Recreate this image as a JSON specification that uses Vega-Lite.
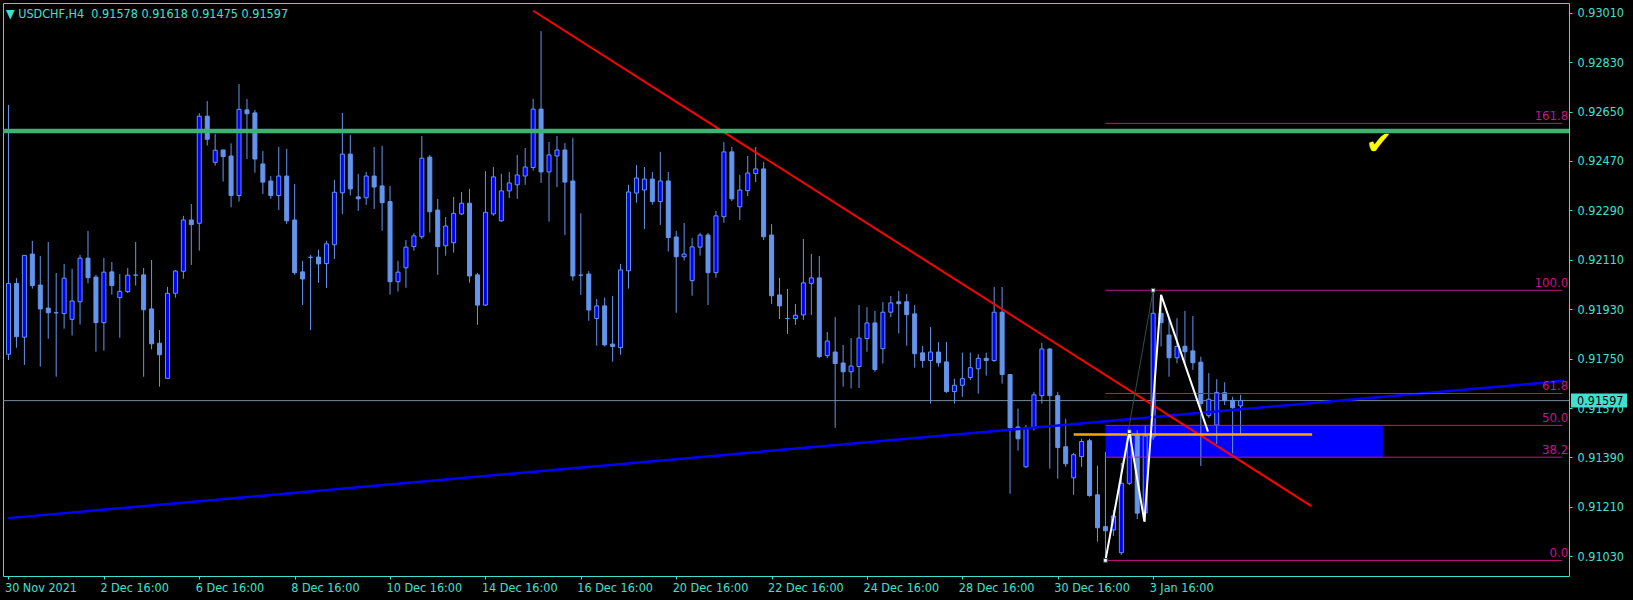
{
"$schema": "https://vega.github.io/schema/vega-lite/v6.json",
"width": 1566, "height": 573,
"autosize": {"type": "none"},
"padding": {"left": 3, "top": 3, "right": 64, "bottom": 24},
"background": "#000000",
"config": {"view": {"stroke": "#40E0D0", "strokeWidth": 1, "fill": "#000000"}, "font": "Liberation Sans Narrow, DejaVu Sans Condensed, Liberation Sans, sans-serif"},
"title": {"text": "▼ USDCHF,H4\u00a0\u00a00.91578 0.91618 0.91475 0.91597", "anchor": "start", "frame": "group", "orient": "top", "offset": -17, "dx": 3, "color": "#40E0D0", "fontSize": 12.5, "fontWeight": "normal"},
"datasets": {
"candles": [
{"i":0,"o":0.91766,"h":0.92674,"l":0.91745,"c":0.92024},
{"i":1,"o":0.92024,"h":0.92043,"l":0.91790,"c":0.91830},
{"i":2,"o":0.91828,"h":0.92126,"l":0.91727,"c":0.92126},
{"i":3,"o":0.92131,"h":0.92179,"l":0.92005,"c":0.92016},
{"i":4,"o":0.92018,"h":0.92124,"l":0.91721,"c":0.91931},
{"i":5,"o":0.91934,"h":0.92175,"l":0.91822,"c":0.91917},
{"i":6,"o":0.91917,"h":0.92062,"l":0.91684,"c":0.91917},
{"i":7,"o":0.91914,"h":0.92095,"l":0.91859,"c":0.92043},
{"i":8,"o":0.91893,"h":0.92077,"l":0.91834,"c":0.91960},
{"i":9,"o":0.91957,"h":0.92128,"l":0.91874,"c":0.92116},
{"i":10,"o":0.92116,"h":0.92215,"l":0.92024,"c":0.92045},
{"i":11,"o":0.92047,"h":0.92055,"l":0.91775,"c":0.91881},
{"i":12,"o":0.91881,"h":0.92117,"l":0.91779,"c":0.92065},
{"i":13,"o":0.92066,"h":0.92102,"l":0.91983,"c":0.92016},
{"i":14,"o":0.91972,"h":0.92058,"l":0.91826,"c":0.91995},
{"i":15,"o":0.91994,"h":0.92080,"l":0.91989,"c":0.92054},
{"i":16,"o":0.92054,"h":0.92175,"l":0.92016,"c":0.92054},
{"i":17,"o":0.92055,"h":0.92080,"l":0.91684,"c":0.91928},
{"i":18,"o":0.91931,"h":0.92109,"l":0.91784,"c":0.91804},
{"i":19,"o":0.91806,"h":0.91854,"l":0.91648,"c":0.91764},
{"i":20,"o":0.91678,"h":0.92011,"l":0.91678,"c":0.91988},
{"i":21,"o":0.91988,"h":0.92073,"l":0.91972,"c":0.92069},
{"i":22,"o":0.92068,"h":0.92270,"l":0.92041,"c":0.92255},
{"i":23,"o":0.92255,"h":0.92313,"l":0.92091,"c":0.92238},
{"i":24,"o":0.92243,"h":0.92644,"l":0.92143,"c":0.92633},
{"i":25,"o":0.92633,"h":0.92688,"l":0.92526,"c":0.92549},
{"i":26,"o":0.92465,"h":0.92568,"l":0.92453,"c":0.92509},
{"i":27,"o":0.92510,"h":0.92510,"l":0.92395,"c":0.92486},
{"i":28,"o":0.92488,"h":0.92534,"l":0.92301,"c":0.92344},
{"i":29,"o":0.92344,"h":0.92750,"l":0.92322,"c":0.92658},
{"i":30,"o":0.92656,"h":0.92696,"l":0.92477,"c":0.92642},
{"i":31,"o":0.92645,"h":0.92656,"l":0.92427,"c":0.92477},
{"i":32,"o":0.92459,"h":0.92506,"l":0.92350,"c":0.92393},
{"i":33,"o":0.92397,"h":0.92415,"l":0.92332,"c":0.92344},
{"i":34,"o":0.92344,"h":0.92521,"l":0.92291,"c":0.92415},
{"i":35,"o":0.92415,"h":0.92514,"l":0.92240,"c":0.92252},
{"i":36,"o":0.92255,"h":0.92386,"l":0.92055,"c":0.92063},
{"i":37,"o":0.92066,"h":0.92106,"l":0.91945,"c":0.92040},
{"i":38,"o":0.92119,"h":0.92128,"l":0.91854,"c":0.92119},
{"i":39,"o":0.92120,"h":0.92146,"l":0.92026,"c":0.92095},
{"i":40,"o":0.92096,"h":0.92179,"l":0.92007,"c":0.92168},
{"i":41,"o":0.92165,"h":0.92401,"l":0.92113,"c":0.92356},
{"i":42,"o":0.92354,"h":0.92645,"l":0.92277,"c":0.92495},
{"i":43,"o":0.92495,"h":0.92565,"l":0.92344,"c":0.92368},
{"i":44,"o":0.92339,"h":0.92423,"l":0.92288,"c":0.92332},
{"i":45,"o":0.92336,"h":0.92430,"l":0.92310,"c":0.92415},
{"i":46,"o":0.92415,"h":0.92521,"l":0.92295,"c":0.92375},
{"i":47,"o":0.92379,"h":0.92525,"l":0.92216,"c":0.92318},
{"i":48,"o":0.92322,"h":0.92379,"l":0.91983,"c":0.92030},
{"i":49,"o":0.92030,"h":0.92106,"l":0.91994,"c":0.92065},
{"i":50,"o":0.92081,"h":0.92182,"l":0.92008,"c":0.92156},
{"i":51,"o":0.92158,"h":0.92207,"l":0.92143,"c":0.92197},
{"i":52,"o":0.92194,"h":0.92561,"l":0.92186,"c":0.92480},
{"i":53,"o":0.92484,"h":0.92492,"l":0.92209,"c":0.92285},
{"i":54,"o":0.92291,"h":0.92332,"l":0.92055,"c":0.92158},
{"i":55,"o":0.92161,"h":0.92266,"l":0.92125,"c":0.92233},
{"i":56,"o":0.92172,"h":0.92339,"l":0.92136,"c":0.92279},
{"i":57,"o":0.92277,"h":0.92357,"l":0.92273,"c":0.92316},
{"i":58,"o":0.92316,"h":0.92368,"l":0.92027,"c":0.92051},
{"i":59,"o":0.92055,"h":0.92062,"l":0.91873,"c":0.91945},
{"i":60,"o":0.91945,"h":0.92433,"l":0.91942,"c":0.92283},
{"i":61,"o":0.92277,"h":0.92448,"l":0.92270,"c":0.92412},
{"i":62,"o":0.92252,"h":0.92423,"l":0.92248,"c":0.92361},
{"i":63,"o":0.92361,"h":0.92430,"l":0.92335,"c":0.92390},
{"i":64,"o":0.92383,"h":0.92492,"l":0.92332,"c":0.92419},
{"i":65,"o":0.92415,"h":0.92517,"l":0.92383,"c":0.92448},
{"i":66,"o":0.92446,"h":0.92696,"l":0.92435,"c":0.92659},
{"i":67,"o":0.92659,"h":0.92943,"l":0.92390,"c":0.92430},
{"i":68,"o":0.92430,"h":0.92539,"l":0.92249,"c":0.92492},
{"i":69,"o":0.92488,"h":0.92561,"l":0.92375,"c":0.92510},
{"i":70,"o":0.92510,"h":0.92535,"l":0.92200,"c":0.92393},
{"i":71,"o":0.92397,"h":0.92554,"l":0.92034,"c":0.92051},
{"i":72,"o":0.92054,"h":0.92279,"l":0.91982,"c":0.92054},
{"i":73,"o":0.92058,"h":0.92069,"l":0.91888,"c":0.91927},
{"i":74,"o":0.91896,"h":0.91967,"l":0.91797,"c":0.91942},
{"i":75,"o":0.91942,"h":0.91972,"l":0.91794,"c":0.91800},
{"i":76,"o":0.91803,"h":0.91978,"l":0.91739,"c":0.91794},
{"i":77,"o":0.91790,"h":0.92095,"l":0.91764,"c":0.92073},
{"i":78,"o":0.92070,"h":0.92383,"l":0.92005,"c":0.92357},
{"i":79,"o":0.92353,"h":0.92455,"l":0.92318,"c":0.92408},
{"i":80,"o":0.92364,"h":0.92448,"l":0.92222,"c":0.92404},
{"i":81,"o":0.92404,"h":0.92430,"l":0.92311,"c":0.92322},
{"i":82,"o":0.92322,"h":0.92503,"l":0.92237,"c":0.92397},
{"i":83,"o":0.92397,"h":0.92430,"l":0.92140,"c":0.92191},
{"i":84,"o":0.92193,"h":0.92215,"l":0.91917,"c":0.92121},
{"i":85,"o":0.92121,"h":0.92244,"l":0.92107,"c":0.92131},
{"i":86,"o":0.92034,"h":0.92189,"l":0.91979,"c":0.92157},
{"i":87,"o":0.92156,"h":0.92208,"l":0.92125,"c":0.92200},
{"i":88,"o":0.92200,"h":0.92208,"l":0.91945,"c":0.92063},
{"i":89,"o":0.92063,"h":0.92288,"l":0.92045,"c":0.92270},
{"i":90,"o":0.92267,"h":0.92539,"l":0.92245,"c":0.92503},
{"i":91,"o":0.92503,"h":0.92521,"l":0.92324,"c":0.92332},
{"i":92,"o":0.92303,"h":0.92419,"l":0.92255,"c":0.92364},
{"i":93,"o":0.92362,"h":0.92488,"l":0.92342,"c":0.92426},
{"i":94,"o":0.92424,"h":0.92521,"l":0.92393,"c":0.92441},
{"i":95,"o":0.92441,"h":0.92466,"l":0.92182,"c":0.92194},
{"i":96,"o":0.92200,"h":0.92240,"l":0.91949,"c":0.91979},
{"i":97,"o":0.91982,"h":0.92044,"l":0.91894,"c":0.91942},
{"i":98,"o":0.91896,"h":0.92004,"l":0.91840,"c":0.91896},
{"i":99,"o":0.91896,"h":0.91949,"l":0.91873,"c":0.91908},
{"i":100,"o":0.91909,"h":0.92186,"l":0.91891,"c":0.92026},
{"i":101,"o":0.92024,"h":0.92131,"l":0.91909,"c":0.92044},
{"i":102,"o":0.92044,"h":0.92124,"l":0.91752,"c":0.91757},
{"i":103,"o":0.91761,"h":0.91847,"l":0.91752,"c":0.91814},
{"i":104,"o":0.91774,"h":0.91901,"l":0.91498,"c":0.91732},
{"i":105,"o":0.91734,"h":0.91800,"l":0.91648,"c":0.91702},
{"i":106,"o":0.91702,"h":0.91825,"l":0.91641,"c":0.91723},
{"i":107,"o":0.91721,"h":0.91945,"l":0.91643,"c":0.91825},
{"i":108,"o":0.91823,"h":0.91937,"l":0.91775,"c":0.91880},
{"i":109,"o":0.91880,"h":0.91924,"l":0.91702,"c":0.91710},
{"i":110,"o":0.91786,"h":0.91956,"l":0.91732,"c":0.91919},
{"i":111,"o":0.91919,"h":0.91978,"l":0.91901,"c":0.91953},
{"i":112,"o":0.91957,"h":0.91996,"l":0.91842,"c":0.91950},
{"i":113,"o":0.91957,"h":0.91985,"l":0.91797,"c":0.91910},
{"i":114,"o":0.91913,"h":0.91945,"l":0.91717,"c":0.91768},
{"i":115,"o":0.91771,"h":0.91796,"l":0.91717,"c":0.91743},
{"i":116,"o":0.91743,"h":0.91865,"l":0.91586,"c":0.91774},
{"i":117,"o":0.91774,"h":0.91810,"l":0.91721,"c":0.91735},
{"i":118,"o":0.91738,"h":0.91811,"l":0.91625,"c":0.91630},
{"i":119,"o":0.91630,"h":0.91677,"l":0.91586,"c":0.91653},
{"i":120,"o":0.91653,"h":0.91772,"l":0.91611,"c":0.91677},
{"i":121,"o":0.91681,"h":0.91772,"l":0.91672,"c":0.91717},
{"i":122,"o":0.91713,"h":0.91766,"l":0.91622,"c":0.91751},
{"i":123,"o":0.91751,"h":0.91772,"l":0.91688,"c":0.91743},
{"i":124,"o":0.91743,"h":0.92011,"l":0.91738,"c":0.91919},
{"i":125,"o":0.91919,"h":0.92011,"l":0.91659,"c":0.91692},
{"i":126,"o":0.91692,"h":0.91692,"l":0.91258,"c":0.91498},
{"i":127,"o":0.91501,"h":0.91568,"l":0.91415,"c":0.91458},
{"i":128,"o":0.91356,"h":0.91508,"l":0.91352,"c":0.91498},
{"i":129,"o":0.91498,"h":0.91629,"l":0.91488,"c":0.91618},
{"i":130,"o":0.91615,"h":0.91808,"l":0.91586,"c":0.91785},
{"i":131,"o":0.91785,"h":0.91789,"l":0.91349,"c":0.91615},
{"i":132,"o":0.91615,"h":0.91629,"l":0.91313,"c":0.91426},
{"i":133,"o":0.91429,"h":0.91531,"l":0.91356,"c":0.91367},
{"i":134,"o":0.91316,"h":0.91407,"l":0.91254,"c":0.91400},
{"i":135,"o":0.91393,"h":0.91458,"l":0.91356,"c":0.91448},
{"i":136,"o":0.91451,"h":0.91458,"l":0.91247,"c":0.91251},
{"i":137,"o":0.91254,"h":0.91360,"l":0.91083,"c":0.91134},
{"i":138,"o":0.91138,"h":0.91410,"l":0.91015,"c":0.91123},
{"i":139,"o":0.91126,"h":0.91199,"l":0.91104,"c":0.91177},
{"i":140,"o":0.91043,"h":0.91370,"l":0.91035,"c":0.91296},
{"i":141,"o":0.91296,"h":0.91484,"l":0.91290,"c":0.91468},
{"i":142,"o":0.91472,"h":0.91490,"l":0.91165,"c":0.91187},
{"i":143,"o":0.91188,"h":0.91508,"l":0.91156,"c":0.91468},
{"i":144,"o":0.91465,"h":0.91999,"l":0.91454,"c":0.91915},
{"i":145,"o":0.91915,"h":0.91982,"l":0.91794,"c":0.91881},
{"i":146,"o":0.91836,"h":0.91897,"l":0.91684,"c":0.91753},
{"i":147,"o":0.91753,"h":0.91897,"l":0.91733,"c":0.91794},
{"i":148,"o":0.91795,"h":0.91924,"l":0.91734,"c":0.91775},
{"i":149,"o":0.91778,"h":0.91905,"l":0.91709,"c":0.91735},
{"i":150,"o":0.91737,"h":0.91757,"l":0.91359,"c":0.91587},
{"i":151,"o":0.91542,"h":0.91697,"l":0.91534,"c":0.91602},
{"i":152,"o":0.91508,"h":0.91675,"l":0.91439,"c":0.91627},
{"i":153,"o":0.91626,"h":0.91664,"l":0.91581,"c":0.91597},
{"i":154,"o":0.91598,"h":0.91611,"l":0.91405,"c":0.91571},
{"i":155,"o":0.91578,"h":0.91618,"l":0.91475,"c":0.91597}
],
"fib": [
{"lv":"0.0","p":0.91015,"i0":138,"i1":195.45},
{"lv":"38.2","p":0.91391,"i0":138,"i1":195.45},
{"lv":"50.0","p":0.91507,"i0":138,"i1":195.45},
{"lv":"61.8","p":0.91623,"i0":138,"i1":195.45},
{"lv":"100.0","p":0.91999,"i0":138,"i1":195.45},
{"lv":"161.8","p":0.92607,"i0":138,"i1":195.45}
]
},
"layer": [
{"data": {"values": [{"i0":138,"i1":172.9,"p0":0.91507,"p1":0.91391}]},
 "mark": {"type": "rect", "color": "#0000FF"},
 "encoding": {
  "x": {"field": "i0", "type": "quantitative", "scale": {"domain": [-0.0625, 195.6875], "nice": false, "zero": false}, "axis": {"title": null, "orient": "bottom"}},
  "x2": {"field": "i1"},
  "y": {"field": "p0", "type": "quantitative", "scale": {"domain": [0.909582, 0.930453], "nice": false, "zero": false}, "axis": {"title": null, "orient": "right"}},
  "y2": {"field": "p1"}}},
{"data": {"values": [{"p":0.91597}]},
 "mark": {"type": "rule", "color": "#778899", "strokeWidth": 1},
 "encoding": {
  "y": {"field": "p", "type": "quantitative", "scale": {"domain": [0.909582, 0.930453], "nice": false, "zero": false}, "axis": {"title": null, "orient": "right"}}}},
{"data": {"name": "candles"},
 "mark": {"type": "rule", "color": "#6495ED", "strokeWidth": 1, "clip": true},
 "encoding": {
  "x": {"field": "i", "type": "quantitative", "scale": {"domain": [-0.0625, 195.6875], "nice": false, "zero": false}, "axis": {"title": null, "orient": "bottom"}},
  "y": {"field": "l", "type": "quantitative", "scale": {"domain": [0.909582, 0.930453], "nice": false, "zero": false}, "axis": {"title": null, "orient": "right"}},
  "y2": {"field": "h"}}},
{"data": {"name": "candles"},
 "mark": {"type": "bar", "size": 4, "stroke": "#6495ED", "strokeWidth": 1, "clip": true},
 "encoding": {
  "x": {"field": "i", "type": "quantitative", "scale": {"domain": [-0.0625, 195.6875], "nice": false, "zero": false},
        "axis": {"orient": "bottom", "title": null, "values": [0,12,24,36,48,60,72,84,96,108,120,132,144], "labelExpr": "['30 Nov 2021','2 Dec 16:00','6 Dec 16:00','8 Dec 16:00','10 Dec 16:00','14 Dec 16:00','16 Dec 16:00','20 Dec 16:00','22 Dec 16:00','24 Dec 16:00','28 Dec 16:00','30 Dec 16:00','3 Jan 16:00'][round(datum.value/12)]", "domain": false, "grid": false, "ticks": true, "tickSize": 3, "tickColor": "#40E0D0", "labelColor": "#40E0D0", "labelFontSize": 12.5, "labelAlign": "left", "labelBaseline": "top", "labelPadding": 2, "labelOffset": -4, "labelOverlap": false, "labelBound": false, "labelFlush": false}},
  "y": {"field": "o", "type": "quantitative", "scale": {"domain": [0.909582, 0.930453], "nice": false, "zero": false},
        "axis": {"orient": "right", "title": null, "values": [0.9103,0.9121,0.9139,0.9157,0.9175,0.9193,0.9211,0.9229,0.9247,0.9265,0.9283,0.9301], "format": ".5f", "domain": false, "grid": false, "tickSize": 3, "tickColor": "#40E0D0", "labelColor": "#40E0D0", "labelFontSize": 12.5, "labelPadding": 5, "labelOverlap": false, "labelBound": false, "labelFlush": false}},
  "y2": {"field": "c"},
  "fill": {"condition": {"test": "datum.c > datum.o", "value": "#0000FF"}, "value": "#6495ED"}}},
{"data": {"values": [{"i":-0.0625,"p":0.91169},{"i":195.6875,"p":0.91669}]},
 "mark": {"type": "line", "color": "#0000FF", "strokeWidth": 2.5, "clip": true},
 "encoding": {
  "x": {"field": "i", "type": "quantitative", "scale": {"domain": [-0.0625, 195.6875], "nice": false, "zero": false}, "axis": {"title": null, "orient": "bottom"}},
  "y": {"field": "p", "type": "quantitative", "scale": {"domain": [0.909582, 0.930453], "nice": false, "zero": false}, "axis": {"title": null, "orient": "right"}}}},
{"data": {"values": [{"i":66.0,"p":0.93017},{"i":163.9,"p":0.91213}]},
 "mark": {"type": "line", "color": "#FF0000", "strokeWidth": 2},
 "encoding": {
  "x": {"field": "i", "type": "quantitative", "scale": {"domain": [-0.0625, 195.6875], "nice": false, "zero": false}, "axis": {"title": null, "orient": "bottom"}},
  "y": {"field": "p", "type": "quantitative", "scale": {"domain": [0.909582, 0.930453], "nice": false, "zero": false}, "axis": {"title": null, "orient": "right"}}}},
{"data": {"values": [{"p":0.92579}]},
 "mark": {"type": "rule", "color": "#3CB371", "strokeWidth": 4.5},
 "encoding": {
  "y": {"field": "p", "type": "quantitative", "scale": {"domain": [0.909582, 0.930453], "nice": false, "zero": false}, "axis": {"title": null, "orient": "right"}}}},
{"data": {"values": [{"i0":134,"i1":164,"p":0.91474}]},
 "mark": {"type": "rule", "color": "#FFA500", "strokeWidth": 2.5},
 "encoding": {
  "x": {"field": "i0", "type": "quantitative", "scale": {"domain": [-0.0625, 195.6875], "nice": false, "zero": false}, "axis": {"title": null, "orient": "bottom"}},
  "x2": {"field": "i1"},
  "y": {"field": "p", "type": "quantitative", "scale": {"domain": [0.909582, 0.930453], "nice": false, "zero": false}, "axis": {"title": null, "orient": "right"}}}},
{"data": {"name": "fib"},
 "mark": {"type": "rule", "color": "#C71585", "strokeWidth": 1},
 "encoding": {
  "x": {"field": "i0", "type": "quantitative", "scale": {"domain": [-0.0625, 195.6875], "nice": false, "zero": false}, "axis": {"title": null, "orient": "bottom"}},
  "x2": {"field": "i1"},
  "y": {"field": "p", "type": "quantitative", "scale": {"domain": [0.909582, 0.930453], "nice": false, "zero": false}, "axis": {"title": null, "orient": "right"}}}},
{"data": {"name": "fib"},
 "mark": {"type": "text", "color": "#C71585", "fontSize": 13, "align": "right", "baseline": "bottom", "dy": 0, "dx": 6},
 "encoding": {
  "x": {"field": "i1", "type": "quantitative", "scale": {"domain": [-0.0625, 195.6875], "nice": false, "zero": false}, "axis": {"title": null, "orient": "bottom"}},
  "y": {"field": "p", "type": "quantitative", "scale": {"domain": [0.909582, 0.930453], "nice": false, "zero": false}, "axis": {"title": null, "orient": "right"}},
  "text": {"field": "lv"}}},
{"data": {"values": [{"i":138,"p":0.91015},{"i":144,"p":0.91999}]},
 "mark": {"type": "line", "color": "#2F4F4F", "strokeWidth": 1},
 "encoding": {
  "x": {"field": "i", "type": "quantitative", "scale": {"domain": [-0.0625, 195.6875], "nice": false, "zero": false}, "axis": {"title": null, "orient": "bottom"}},
  "y": {"field": "p", "type": "quantitative", "scale": {"domain": [0.909582, 0.930453], "nice": false, "zero": false}, "axis": {"title": null, "orient": "right"}}}},
{"data": {"values": [{"i":138,"p":0.91015},{"i":141,"p":0.91484},{"i":142.9,"p":0.91156},{"i":145,"p":0.91982},{"i":150.9,"p":0.91484}]},
 "mark": {"type": "line", "color": "#FFFFFF", "strokeWidth": 2},
 "encoding": {
  "x": {"field": "i", "type": "quantitative", "scale": {"domain": [-0.0625, 195.6875], "nice": false, "zero": false}, "axis": {"title": null, "orient": "bottom"}},
  "y": {"field": "p", "type": "quantitative", "scale": {"domain": [0.909582, 0.930453], "nice": false, "zero": false}, "axis": {"title": null, "orient": "right"}}}},
{"data": {"values": [{"i":138,"p":0.91015},{"i":141,"p":0.91484},{"i":144,"p":0.91999}]},
 "mark": {"type": "point", "shape": "square", "size": 14, "filled": true, "color": "#FFFFFF", "stroke": "#2F4F4F", "strokeWidth": 1, "opacity": 1},
 "encoding": {
  "x": {"field": "i", "type": "quantitative", "scale": {"domain": [-0.0625, 195.6875], "nice": false, "zero": false}, "axis": {"title": null, "orient": "bottom"}},
  "y": {"field": "p", "type": "quantitative", "scale": {"domain": [0.909582, 0.930453], "nice": false, "zero": false}, "axis": {"title": null, "orient": "right"}}}},
{"data": {"values": [{"i":172.4,"p":0.92532,"t":"✔"}]},
 "mark": {"type": "text", "color": "#FFFF00", "fontSize": 32, "font": "DejaVu Sans", "align": "center", "baseline": "middle"},
 "encoding": {
  "x": {"field": "i", "type": "quantitative", "scale": {"domain": [-0.0625, 195.6875], "nice": false, "zero": false}, "axis": {"title": null, "orient": "bottom"}},
  "y": {"field": "p", "type": "quantitative", "scale": {"domain": [0.909582, 0.930453], "nice": false, "zero": false}, "axis": {"title": null, "orient": "right"}},
  "text": {"field": "t"}}},
{"data": {"values": [{"p":0.91597,"t":"0.91597"}]},
 "mark": {"type": "rect", "color": "#40E0D0", "yOffset": -7, "y2Offset": 7},
 "encoding": {
  "x": {"value": 1568},
  "x2": {"value": 1624},
  "y": {"field": "p", "type": "quantitative", "scale": {"domain": [0.909582, 0.930453], "nice": false, "zero": false}, "axis": {"title": null, "orient": "right"}},
  "y2": {"field": "p"}}},
{"data": {"values": [{"p":0.91597,"t":"0.91597"}]},
 "mark": {"type": "text", "color": "#000000", "fontSize": 12.5, "align": "left", "baseline": "middle"},
 "encoding": {
  "x": {"value": 1574},
  "y": {"field": "p", "type": "quantitative", "scale": {"domain": [0.909582, 0.930453], "nice": false, "zero": false}, "axis": {"title": null, "orient": "right"}},
  "text": {"field": "t"}}}
]
}
